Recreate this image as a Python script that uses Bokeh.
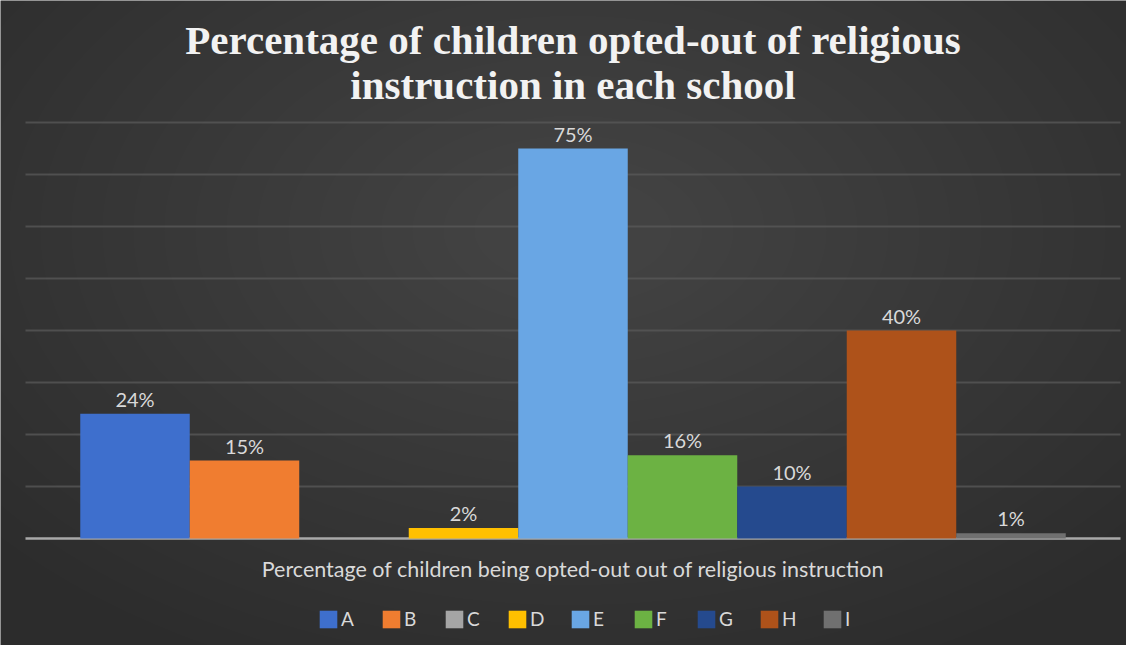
from bokeh.plotting import figure
from bokeh.models import ColumnDataSource, Label, Legend, LegendItem
from bokeh.embed import file_html
from bokeh.resources import INLINE

# ---- data ----
schools = ["A", "B", "C", "D", "E", "F", "G", "H", "I"]
percent = [24, 15, 0, 2, 75, 16, 10, 40, 1]
colors = ["#3e6fcd", "#f07d30", "#a5a5a5", "#ffc000", "#69a6e4",
          "#6cb243", "#254a8e", "#ae521a", "#707070"]
grid_ticks = [10, 20, 30, 40, 50, 60, 70, 80]
title_lines = ["Percentage of children opted-out of religious",
               "instruction in each school"]
axis_title = "Percentage of children being opted-out out of religious instruction"

# ---- layout constants (pixels) ----
W, H = 1126, 645
plot_left_px, plot_right_px = 25, 1120
top_px, base_px = 122, 538           # y of 80% gridline and baseline (from top)
n = len(schools)
x_px_per_unit = (plot_right_px - plot_left_px) / (n + 1)
y_max = max(grid_ticks)
y_px_per_unit = (base_px - top_px) / y_max

x_start = -1 - plot_left_px / x_px_per_unit
x_end = n + (W - plot_right_px) / x_px_per_unit
y_end = y_max + top_px / y_px_per_unit
y_start = -(H - base_px) / y_px_per_unit


def y_at(px_from_top):
    return y_end - px_from_top / y_px_per_unit


p = figure(width=W, height=H, x_range=(x_start, x_end), y_range=(y_start, y_end),
           output_backend="svg", toolbar_location=None, min_border=0)
p.axis.visible = False
p.grid.visible = False
p.outline_line_color = None
p.background_fill_color = "#2c2c2c"
p.border_fill_color = "#2c2c2c"

# soft radial vignette (lighter centre)
for k in range(22):
    p.ellipse(x=(n - 1) / 2, y=y_at(230), width=1500 - k * 62, height=950 - k * 40,
              width_units="screen", height_units="screen",
              fill_color="white", fill_alpha=0.009, line_color=None)

# gridlines
p.segment(x0=[-1] * len(grid_ticks), y0=grid_ticks, x1=[n] * len(grid_ticks), y1=grid_ticks,
          line_color="#5a5a5a", line_width=2, line_alpha=0.75)
# baseline
p.segment(x0=[-1], y0=[0], x1=[n], y1=[0], line_color="#a9a9a9", line_width=2.5)

src = ColumnDataSource(dict(x=list(range(n)), top=percent, color=colors, school=schools))
bars = p.vbar(x="x", top="top", width=1.0, bottom=0, fill_color="color",
              line_color=None, source=src)

# data labels (Excel omits the zero value)
lab_idx = [i for i, v in enumerate(percent) if v > 0]
lab_src = ColumnDataSource(dict(x=lab_idx, y=[percent[i] for i in lab_idx],
                                t=[f"{percent[i]}%" for i in lab_idx]))
p.text(x="x", y="y", text="t", source=lab_src, text_align="center",
       text_baseline="bottom", y_offset=-3, text_color="#d9d9d9",
       text_font_size="20px", text_font={"value": "Lato"})

# chart title (two lines)
for line, px in zip(title_lines, [39, 84]):
    p.add_layout(Label(x=(n - 1) / 2, y=y_at(px), text=line, text_align="center",
                       text_baseline="alphabetic", text_font="Liberation Serif",
                       text_font_style="bold", text_font_size="41px",
                       text_color="#f2f2f2"))

# axis title
p.add_layout(Label(x=(n - 1) / 2, y=y_at(base_px + 30), text=axis_title,
                   text_align="center", text_baseline="middle", text_font="Lato",
                   text_font_size="21.5px", text_color="#d9d9d9"))

# legend
items = [LegendItem(label=s, renderers=[bars], index=i) for i, s in enumerate(schools)]
legend = Legend(items=items, orientation="horizontal", location=(317, 15),
                glyph_width=22, glyph_height=22, label_standoff=2, label_width=28,
                spacing=11, padding=0, margin=0, background_fill_alpha=0,
                border_line_alpha=0, label_text_color="#d9d9d9",
                label_text_font="Lato", label_text_font_size="19px")
p.add_layout(legend, "center")

open("out.html", "w").write(file_html(p, INLINE))
